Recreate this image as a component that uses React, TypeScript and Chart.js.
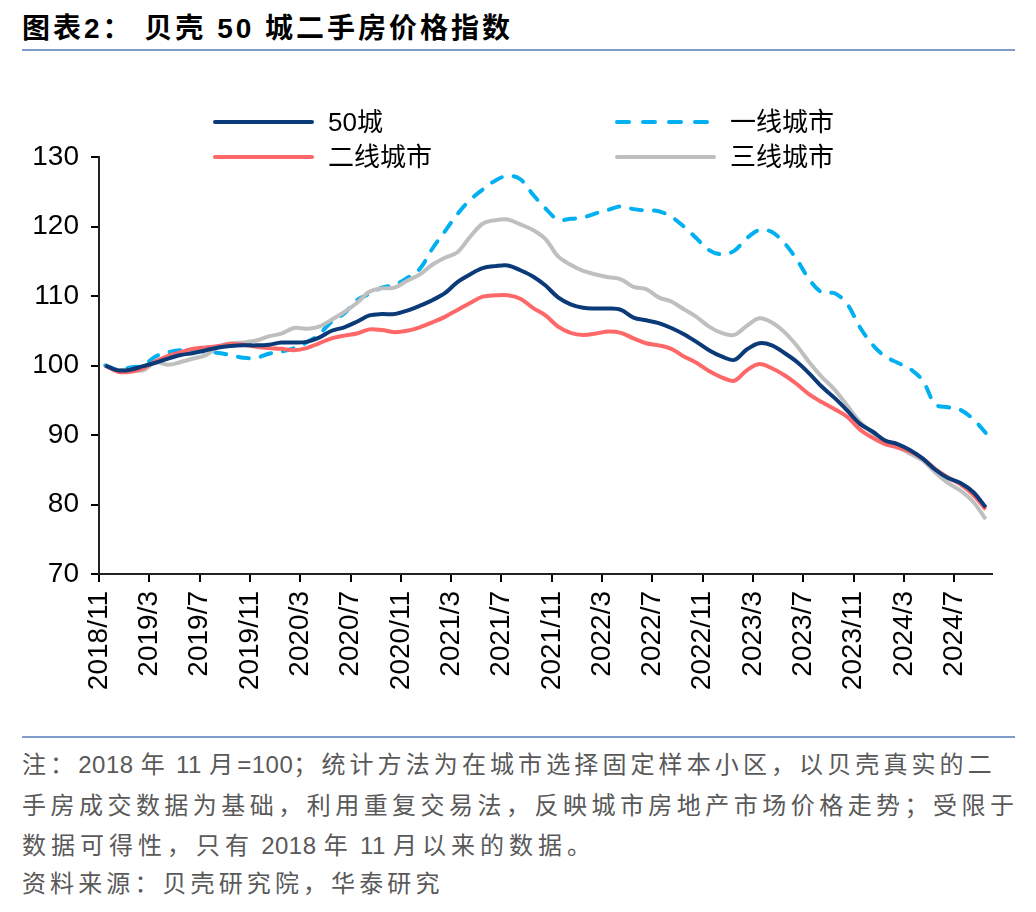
import React, { useEffect, useRef } from "react";
import { Chart, registerables } from "chart.js";

Chart.register(...registerables);

// Monthly categories 2018/11 .. 2024/9
const startYear = 2018;
const startMonth = 11;
const monthCount = 71;
const months: string[] = [];
for (let i = 0; i < monthCount; i++) {
  const m = startMonth - 1 + i;
  months.push(`${startYear + Math.floor(m / 12)}/${(m % 12) + 1}`);
}
const tickEvery = 4;

const city50 = [
  100.0, 99.3, 99.4, 99.9, 100.4, 101.0, 101.5, 101.8, 102.2, 102.6,
  102.8, 102.9, 102.9, 103.0, 103.3, 103.3, 103.4, 104.0, 105.0, 105.5,
  106.3, 107.2, 107.4, 107.4, 107.9, 108.6, 109.4, 110.4, 112.0, 113.1,
  114.0, 114.3, 114.4, 113.7, 112.8, 111.5, 109.8, 108.8, 108.3, 108.2,
  108.2, 108.0, 106.9, 106.5, 106.1, 105.4, 104.5, 103.4, 102.2, 101.3,
  100.8, 102.3, 103.2, 102.9, 101.8, 100.5, 98.8, 96.9, 95.3, 93.5,
  91.6, 90.5, 89.2, 88.7, 87.8, 86.6, 85.0, 83.8, 83.1, 81.8,
  79.6,
];

const tier1 = [
  100.0, 99.4, 99.7, 100.0, 101.3, 101.9, 102.2, 102.1, 102.0, 101.8,
  101.5, 101.1, 101.1, 101.7, 102.0, 102.5, 103.3, 104.5, 106.3, 107.5,
  109.4, 110.3, 111.2, 111.6, 112.6, 113.9, 116.8, 119.3, 121.8, 123.8,
  125.3, 126.6, 127.3, 126.8, 124.6, 122.6, 121.0, 121.1, 121.3, 121.9,
  122.4, 122.9, 122.5, 122.3, 122.2, 121.4, 120.0, 118.3, 116.6, 116.0,
  116.5, 118.3, 119.5, 119.2, 117.6, 115.2, 112.3, 110.5, 110.4, 108.8,
  105.5, 103.0, 101.3, 100.4, 99.5, 97.8, 94.4, 94.0, 93.6, 92.3,
  90.3,
];

const tier2 = [
  100.0, 99.1, 99.1, 99.6, 100.6, 101.4, 101.9, 102.4, 102.6, 102.8,
  103.1, 103.0, 102.7, 102.5, 102.4, 102.2, 102.5, 103.2, 103.9, 104.3,
  104.6, 105.2, 105.1, 104.8, 105.0, 105.5, 106.2, 107.0, 108.0, 109.0,
  109.9, 110.1, 110.1, 109.6, 108.3, 107.2, 105.6, 104.7, 104.4, 104.6,
  104.9, 104.7, 103.9, 103.2, 102.9, 102.4, 101.3, 100.4, 99.2, 98.3,
  97.8, 99.3, 100.2, 99.6, 98.6, 97.3, 95.8, 94.7, 93.7, 92.6,
  90.8, 89.6, 88.7, 88.2, 87.6, 86.6, 85.1, 83.9, 82.9, 81.4,
  79.3,
];

const tier3 = [
  100.0, 99.35, 99.4, 99.3, 100.5, 100.1, 100.5, 101.0, 101.5, 102.7,
  103.2, 103.3, 103.6, 104.2, 104.6, 105.4, 105.3, 105.6, 106.6, 107.7,
  109.0, 110.6, 111.1, 111.2, 112.2, 113.1, 114.5, 115.5, 116.3, 118.5,
  120.4, 120.9, 121.0, 120.3, 119.5, 118.2, 115.7, 114.5, 113.6, 113.1,
  112.7, 112.4, 111.3, 111.0, 109.8, 109.2, 108.1, 107.0, 105.6, 104.7,
  104.4, 105.7, 106.8, 106.2, 104.8, 102.8, 100.4, 98.3, 96.5, 94.2,
  91.9, 90.3, 88.9, 88.2, 87.3, 86.3, 84.6, 83.1, 82.0, 80.4,
  77.9,
];

const seriesNames = ["50城", "一线城市", "二线城市", "三线城市"];
const yTicks = { min: 70, max: 130, step: 10 };

const noteLines = [
  "注：2018 年 11 月=100；统计方法为在城市选择固定样本小区，以贝壳真实的二",
  "手房成交数据为基础，利用重复交易法，反映城市房地产市场价格走势；受限于",
  "数据可得性，只有 2018 年 11 月以来的数据。",
  "资料来源：贝壳研究院，华泰研究",
];

const COLORS = {
  navy: "#0b3a78",
  blue: "#00b0f0",
  red: "#ff6868",
  gray: "#bfbfbf",
};

const LATIN = '"Liberation Sans", Arial, sans-serif';
const CJK = '"Liberation Sans", "Noto Sans CJK SC", sans-serif';

function toPoints(vals: number[]) {
  return vals.map((v, i) => ({ x: i + 0.5, y: v }));
}

// split text into ASCII / non-ASCII runs so spacing applies to CJK only
function splitRuns(s: string) {
  const runs: { text: string; ascii: boolean }[] = [];
  for (const ch of s) {
    const a = ch.charCodeAt(0) < 128;
    const last = runs[runs.length - 1];
    if (last && last.ascii === a) last.text += ch;
    else runs.push({ text: ch, ascii: a });
  }
  return runs;
}

const cjkSpacing = [4.1, 0, 5.0, 4.1];

export default function App() {
  const canvasRef = useRef<HTMLCanvasElement | null>(null);

  useEffect(() => {
    if (!canvasRef.current) return;
    const tickFont = { family: LATIN, size: 28 };
    const chart = new Chart(canvasRef.current, {
      type: "line",
      data: {
        datasets: [
          {
            label: seriesNames[0],
            data: toPoints(city50),
            borderColor: COLORS.navy,
            borderWidth: 4,
          },
          {
            label: seriesNames[2],
            data: toPoints(tier2),
            borderColor: COLORS.red,
            borderWidth: 4,
          },
          {
            label: seriesNames[3],
            data: toPoints(tier3),
            borderColor: COLORS.gray,
            borderWidth: 4,
          },
          {
            label: seriesNames[1],
            data: toPoints(tier1),
            borderColor: COLORS.blue,
            borderWidth: 4,
            borderDash: [11, 12],
            borderCapStyle: "round",
          },
        ],
      },
      options: {
        animation: false,
        responsive: false,
        maintainAspectRatio: false,
        layout: { padding: { left: 0, right: 36, top: 97, bottom: 0 } },
        plugins: { legend: { display: false }, tooltip: { enabled: false } },
        elements: {
          point: { radius: 0 },
          line: { tension: 0.35, borderJoinStyle: "round", fill: false },
        },
        scales: {
          x: {
            type: "linear",
            min: 0,
            max: monthCount,
            afterBuildTicks: (scale: any) => {
              const t: { value: number }[] = [];
              for (let i = 0; i < monthCount; i += tickEvery) t.push({ value: i });
              scale.ticks = t;
            },
            afterFit: (scale: any) => {
              scale.height = 136;
            },
            ticks: {
              autoSkip: false,
              minRotation: 90,
              maxRotation: 90,
              padding: 9,
              color: "#000",
              font: tickFont,
              callback: (v: any) => months[Number(v)] ?? "",
            },
            grid: {
              drawOnChartArea: false,
              drawTicks: true,
              tickLength: 8,
              color: "#000",
              lineWidth: 2,
            },
            border: { display: true, color: "#222", width: 2 },
          },
          y: {
            min: yTicks.min,
            max: yTicks.max,
            afterFit: (scale: any) => {
              scale.width = 91;
            },
            ticks: {
              stepSize: yTicks.step,
              padding: 12,
              color: "#000",
              font: tickFont,
            },
            grid: {
              drawOnChartArea: false,
              drawTicks: true,
              tickLength: 8,
              color: "#000",
              lineWidth: 2,
            },
            border: { display: true, color: "#222", width: 2 },
          },
        },
      },
    } as any);
    return () => chart.destroy();
  }, []);

  const legendItems = [
    { name: seriesNames[0], color: COLORS.navy, dash: false, x: 205, y: 114 },
    { name: seriesNames[1], color: COLORS.blue, dash: true, x: 607, y: 114 },
    { name: seriesNames[2], color: COLORS.red, dash: false, x: 205, y: 149 },
    { name: seriesNames[3], color: COLORS.gray, dash: false, x: 607, y: 149 },
  ];

  return (
    <div
      style={{
        position: "relative",
        width: 1020,
        height: 896,
        background: "#fff",
        fontFamily: CJK,
      }}
    >
      <div
        style={{
          position: "absolute",
          left: 14,
          top: 4,
          fontSize: 28,
          fontWeight: 700,
          lineHeight: "34px",
          letterSpacing: 3,
          color: "#000",
          whiteSpace: "pre",
        }}
      >
        图表2： 贝壳 50 城二手房价格指数
      </div>
      <div
        style={{
          position: "absolute",
          left: 14,
          top: 41,
          width: 993,
          height: 2,
          background: "#7f9ccb",
        }}
      />
      <canvas
        ref={canvasRef}
        width={1020}
        height={650}
        style={{ position: "absolute", left: 0, top: 52, width: 1020, height: 650 }}
      />
      {legendItems.map((it) => (
        <div key={it.name}>
          <svg
            width={110}
            height={10}
            style={{ position: "absolute", left: it.x - 3, top: it.y - 5 }}
          >
            <line
              x1={5}
              y1={5}
              x2={102}
              y2={5}
              stroke={it.color}
              strokeWidth={4}
              strokeLinecap="round"
              strokeDasharray={it.dash ? "12 14" : undefined}
            />
          </svg>
          <div
            style={{
              position: "absolute",
              left: it.x + 115,
              top: it.y - 17,
              fontSize: 26,
              lineHeight: "34px",
              color: "#000",
              whiteSpace: "pre",
            }}
          >
            {it.name}
          </div>
        </div>
      ))}
      <div
        style={{
          position: "absolute",
          left: 14,
          top: 728,
          width: 993,
          height: 2,
          background: "#7f9ccb",
        }}
      />
      {noteLines.map((line, i) => (
        <div
          key={i}
          style={{
            position: "absolute",
            left: 14,
            top: [737, 778, 818, 856][i],
            width: i === 1 ? 992 : undefined,
            fontSize: 24,
            lineHeight: "40px",
            color: "#595959",
            whiteSpace: "pre",
            textAlign: i === 1 ? "justify" : "left",
            textAlignLast: i === 1 ? "justify" : "auto",
          } as any}
        >
          {i === 1
            ? line
            : splitRuns(line).map((r, k) => (
                <span key={k} style={{ letterSpacing: r.ascii ? 0.5 : cjkSpacing[i] }}>
                  {r.text}
                </span>
              ))}
        </div>
      ))}
    </div>
  );
}
